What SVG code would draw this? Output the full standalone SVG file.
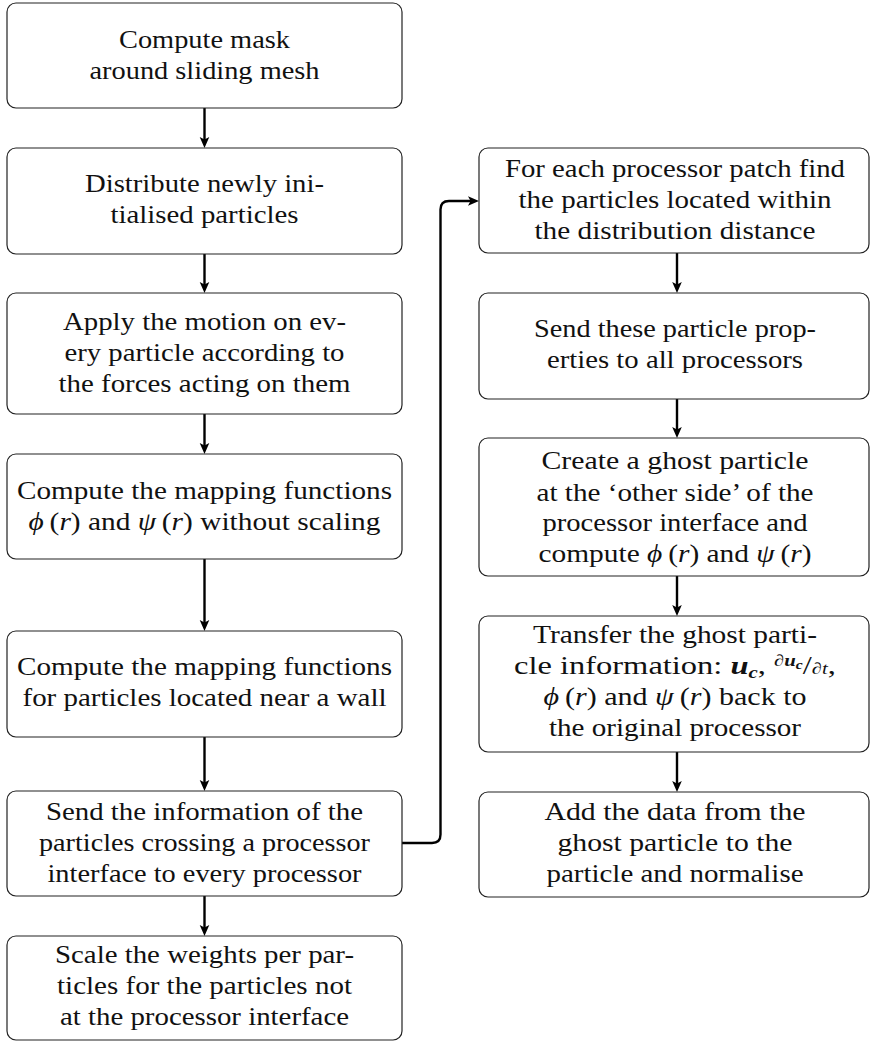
<svg xmlns="http://www.w3.org/2000/svg" width="870" height="1041" viewBox="0 0 870 1041">
<style>
.box{fill:#fff;stroke:#222;stroke-width:1.2}
.t{font-family:'Liberation Serif','Times New Roman',serif;font-size:25px;fill:#111;text-anchor:middle}
.m{font-style:italic}
.bi{font-style:italic;font-weight:bold}
.conn{fill:none;stroke:#000;stroke-width:2.4}
</style>
<defs>
<marker id="ah" markerUnits="userSpaceOnUse" markerWidth="14" markerHeight="12" viewBox="0 -6 12 12" refX="5" refY="0" orient="auto">
<path d="M0,-4.8 L11,0 L0,4.8 L2.6,0 Z" fill="#000"/>
</marker>
</defs>
<g id="connectors">
<path class="conn" d="M204.5,108 V142" marker-end="url(#ah)"/>
<path class="conn" d="M204.5,254 V287" marker-end="url(#ah)"/>
<path class="conn" d="M204.5,414 V448" marker-end="url(#ah)"/>
<path class="conn" d="M204.5,559 V625" marker-end="url(#ah)"/>
<path class="conn" d="M204.5,737 V785" marker-end="url(#ah)"/>
<path class="conn" d="M204.5,896 V930" marker-end="url(#ah)"/>
<path class="conn" d="M402,843 H432 Q440.5,843 440.5,834.5 V209.5 Q440.5,201 449,201 H473" marker-end="url(#ah)"/>
<path class="conn" d="M677,253 V287" marker-end="url(#ah)"/>
<path class="conn" d="M677,399 V432" marker-end="url(#ah)"/>
<path class="conn" d="M677,576 V610" marker-end="url(#ah)"/>
<path class="conn" d="M677,752 V786" marker-end="url(#ah)"/>
</g>
<g id="n1"><rect class="box" x="7" y="3" width="395" height="105" rx="9"/>
<text class="t" x="204.5" y="48" textLength="171" lengthAdjust="spacingAndGlyphs">Compute mask</text>
<text class="t" x="204.5" y="79" textLength="230" lengthAdjust="spacingAndGlyphs">around sliding mesh</text></g>
<g id="n2"><rect class="box" x="7" y="148" width="395" height="106" rx="9"/>
<text class="t" x="204.5" y="192" textLength="239" lengthAdjust="spacingAndGlyphs">Distribute newly ini-</text>
<text class="t" x="204.5" y="223" textLength="188" lengthAdjust="spacingAndGlyphs">tialised particles</text></g>
<g id="n3"><rect class="box" x="7" y="293" width="395" height="121" rx="9"/>
<text class="t" x="204.5" y="330" textLength="283" lengthAdjust="spacingAndGlyphs">Apply the motion on ev-</text>
<text class="t" x="204.5" y="361" textLength="280" lengthAdjust="spacingAndGlyphs">ery particle according to</text>
<text class="t" x="204.5" y="392" textLength="292" lengthAdjust="spacingAndGlyphs">the forces acting on them</text></g>
<g id="n4"><rect class="box" x="7" y="454" width="395" height="105" rx="9"/>
<text class="t" x="204.5" y="499" textLength="375" lengthAdjust="spacingAndGlyphs">Compute the mapping functions</text>
<text class="t" x="204.5" y="530" textLength="352" lengthAdjust="spacingAndGlyphs"><tspan class="m">ϕ</tspan>&#8201;(<tspan class="m">r</tspan>) and <tspan class="m">ψ</tspan>&#8201;(<tspan class="m">r</tspan>) without scaling</text></g>
<g id="n5"><rect class="box" x="7" y="631" width="395" height="106" rx="9"/>
<text class="t" x="204.5" y="675" textLength="375" lengthAdjust="spacingAndGlyphs">Compute the mapping functions</text>
<text class="t" x="204.5" y="706" textLength="364" lengthAdjust="spacingAndGlyphs">for particles located near a wall</text></g>
<g id="n6"><rect class="box" x="7" y="791" width="395" height="105" rx="9"/>
<text class="t" x="204.5" y="820" textLength="317" lengthAdjust="spacingAndGlyphs">Send the information of the</text>
<text class="t" x="204.5" y="851" textLength="331" lengthAdjust="spacingAndGlyphs">particles crossing a processor</text>
<text class="t" x="204.5" y="882" textLength="314" lengthAdjust="spacingAndGlyphs">interface to every processor</text></g>
<g id="n7"><rect class="box" x="7" y="936" width="395" height="104" rx="9"/>
<text class="t" x="204.5" y="963" textLength="299" lengthAdjust="spacingAndGlyphs">Scale the weights per par-</text>
<text class="t" x="204.5" y="994" textLength="295" lengthAdjust="spacingAndGlyphs">ticles for the particles not</text>
<text class="t" x="204.5" y="1025" textLength="289" lengthAdjust="spacingAndGlyphs">at the processor interface</text></g>
<g id="r1"><rect class="box" x="479" y="148" width="390" height="105" rx="9"/>
<text class="t" x="675" y="177" textLength="340" lengthAdjust="spacingAndGlyphs">For each processor patch find</text>
<text class="t" x="675" y="208" textLength="313" lengthAdjust="spacingAndGlyphs">the particles located within</text>
<text class="t" x="675" y="239" textLength="281" lengthAdjust="spacingAndGlyphs">the distribution distance</text></g>
<g id="r2"><rect class="box" x="479" y="293" width="390" height="106" rx="9"/>
<text class="t" x="675" y="337" textLength="282" lengthAdjust="spacingAndGlyphs">Send these particle prop-</text>
<text class="t" x="675" y="368" textLength="256" lengthAdjust="spacingAndGlyphs">erties to all processors</text></g>
<g id="r3"><rect class="box" x="479" y="438" width="390" height="138" rx="9"/>
<text class="t" x="675" y="469" textLength="267" lengthAdjust="spacingAndGlyphs">Create a ghost particle</text>
<text class="t" x="675" y="501" textLength="277" lengthAdjust="spacingAndGlyphs">at the ‘other side’ of the</text>
<text class="t" x="675" y="531" textLength="265" lengthAdjust="spacingAndGlyphs">processor interface and</text>
<text class="t" x="675" y="562" textLength="273" lengthAdjust="spacingAndGlyphs">compute <tspan class="m">ϕ</tspan>&#8201;(<tspan class="m">r</tspan>) and <tspan class="m">ψ</tspan>&#8201;(<tspan class="m">r</tspan>)</text></g>
<g id="r4"><rect class="box" x="479" y="616" width="390" height="136" rx="9"/>
<text class="t" x="675" y="643" textLength="284" lengthAdjust="spacingAndGlyphs">Transfer the ghost parti-</text>
<text class="t" x="675" y="674" textLength="322" lengthAdjust="spacingAndGlyphs">cle information: <tspan class="bi">u</tspan><tspan class="bi" font-size="16" dy="4">c</tspan><tspan dy="-4">, </tspan><tspan font-size="16" dy="-8">∂</tspan><tspan class="bi" font-size="16">u</tspan><tspan class="bi" font-size="12" dy="3">c</tspan><tspan dy="5">/</tspan><tspan font-size="16">∂</tspan><tspan class="m" font-size="16">t</tspan>,</text>
<text class="t" x="675" y="705" textLength="263" lengthAdjust="spacingAndGlyphs"><tspan class="m">ϕ</tspan>&#8201;(<tspan class="m">r</tspan>) and <tspan class="m">ψ</tspan>&#8201;(<tspan class="m">r</tspan>) back to</text>
<text class="t" x="675" y="736" textLength="252" lengthAdjust="spacingAndGlyphs">the original processor</text></g>
<g id="r5"><rect class="box" x="479" y="792" width="390" height="105" rx="9"/>
<text class="t" x="675" y="820" textLength="261" lengthAdjust="spacingAndGlyphs">Add the data from the</text>
<text class="t" x="675" y="851" textLength="235" lengthAdjust="spacingAndGlyphs">ghost particle to the</text>
<text class="t" x="675" y="882" textLength="257" lengthAdjust="spacingAndGlyphs">particle and normalise</text></g>
</svg>
